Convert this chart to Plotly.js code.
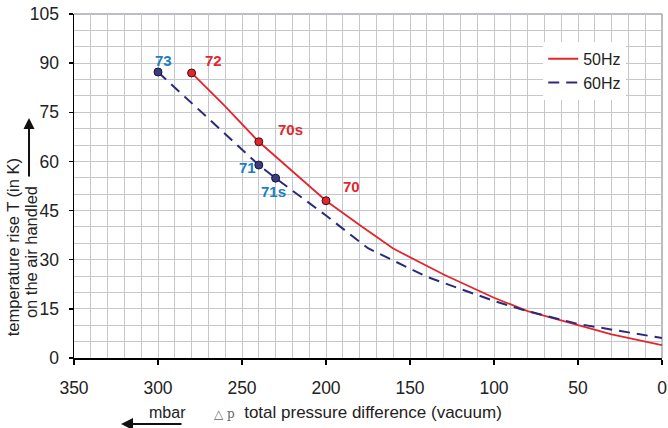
<!DOCTYPE html>
<html>
<head>
<meta charset="utf-8">
<script src="https://cdn.plot.ly/plotly-3.0.1.min.js"></script>
<style>html,body{margin:0;padding:0;background:#fff;}#chart{width:668px;height:428px;}</style>
</head>
<body>
<div id="chart"></div>
<script>
// 50Hz curve
const p50 = [280, 260, 240, 210, 200, 180, 160, 130, 100, 80, 50, 30, 0];
const t50 = [87, 76.8, 66, 52.5, 48, 40.6, 33.4, 25.5, 18.4, 14.3, 10.0, 7.2, 3.9];
// 60Hz curve
const p60 = [300, 240, 230, 200, 175, 140, 100, 80, 50, 0];
const t60 = [87.3, 58.9, 54.9, 43.5, 33.5, 24.8, 17.4, 14.3, 10.4, 6.1];
// marked points (pump models)
const mark50P = [280, 240, 200];
const mark50T = [87, 66, 48];
const mark50Lbl = ["72", "70s", "70"];
const mark60P = [300, 240, 230];
const mark60T = [87.3, 58.9, 54.9];
const mark60Lbl = ["73", "71", "71s"];
const xTicks = [350, 300, 250, 200, 150, 100, 50, 0];
const yTicks = [0, 15, 30, 45, 60, 75, 90, 105];

const red = '#e3262b';
const navy = '#2a2a7c';
const lblRed = '#e0282c';
const lblBlue = '#1b7dc2';
const FONT = 'Liberation Sans, Arial, sans-serif';

const traces = [
  {x: p50, y: t50, mode: 'lines', name: '50Hz', line: {color: red, width: 1.8}, hoverinfo: 'skip'},
  {x: p60, y: t60, mode: 'lines', name: '60Hz', line: {color: navy, width: 2, dash: '11px,7px'}, hoverinfo: 'skip'},
  {x: mark50P, y: mark50T, mode: 'markers', showlegend: false,
   marker: {color: red, size: 8, line: {color: '#3a1010', width: 1}}},
  {x: mark60P, y: mark60T, mode: 'markers', showlegend: false,
   marker: {color: '#3b3d80', size: 8, line: {color: '#15153a', width: 1}}}
];

// label offsets (data units) for each marker label
const off50 = [[-13, 3.7], [-19, 3.7], [-15, 4.2]];
const off60 = [[-3, 3.4], [7, -0.9], [1.5, -4.2]];
const annotations = [];
mark50P.forEach((p, i) => annotations.push({x: p + off50[i][0], y: mark50T[i] + off50[i][1], text: '<b>' + mark50Lbl[i] + '</b>',
  showarrow: false, xanchor: 'center', yanchor: 'middle', font: {family: FONT, size: 15, color: lblRed}}));
mark60P.forEach((p, i) => annotations.push({x: p + off60[i][0], y: mark60T[i] + off60[i][1], text: '<b>' + mark60Lbl[i] + '</b>',
  showarrow: false, xanchor: 'center', yanchor: 'middle', font: {family: FONT, size: 15, color: lblBlue}}));

// y axis title (two lines) and arrow
annotations.push({xref: 'paper', yref: 'paper', x: -0.1037, y: 0.322, xanchor: 'center', yanchor: 'middle', textangle: -90, showarrow: false,
  text: 'temperature rise T (in K)', font: {family: FONT, size: 16.5, color: '#222'}});
annotations.push({xref: 'paper', yref: 'paper', x: -0.073, y: 0.308, xanchor: 'center', yanchor: 'middle', textangle: -90, showarrow: false,
  text: 'on the air handled', font: {family: FONT, size: 16.5, color: '#222'}});
annotations.push({xref: 'paper', yref: 'paper', x: -0.0765, y: 0.698, ax: 0, ay: 60, text: '',
  showarrow: true, arrowhead: 2, arrowsize: 1.1, arrowwidth: 2, arrowcolor: '#111'});
// x axis title
annotations.push({xref: 'paper', yref: 'paper', x: (212 - 74) / 588, y: -0.157, xanchor: 'left', yanchor: 'middle', showarrow: false,
  text: '<span style="font-family:DejaVu Serif,serif;font-size:12px;color:#666">△ p</span>  total pressure difference (vacuum)',
  font: {family: FONT, size: 17, color: '#222'}});
annotations.push({xref: 'paper', yref: 'paper', x: (147 - 74) / 588, y: -0.157, xanchor: 'left', yanchor: 'middle', showarrow: false,
  text: 'mbar', font: {family: FONT, size: 16, color: '#222'}});
annotations.push({xref: 'paper', yref: 'paper', x: (121 - 74) / 588, y: -0.192, ax: 62, ay: 0, text: '',
  showarrow: true, arrowhead: 2, arrowsize: 1.2, arrowwidth: 2, arrowcolor: '#111'});

const gridC = '#c4c7cd';
const layout = {
  width: 668, height: 428,
  margin: {l: 74, r: 6, t: 14, b: 70},
  paper_bgcolor: '#fff', plot_bgcolor: '#fff',
  font: {family: FONT, color: '#222'},
  showlegend: true,
  legend: {x: 0.798, y: 0.919, xanchor: 'left', yanchor: 'top', bgcolor: '#fff', borderwidth: 0,
    font: {family: FONT, size: 16, color: '#222'}, itemwidth: 30},
  xaxis: {range: [350, 0], tickvals: xTicks, ticks: 'outside', ticklen: 5, tickcolor: '#000', tickwidth: 1.5,
    showline: true, linecolor: '#000', linewidth: 1.5, showgrid: true, gridcolor: gridC, gridwidth: 1,
    minor: {dtick: 10, tick0: 0, showgrid: true, gridcolor: gridC, gridwidth: 1},
    zeroline: false, tickfont: {family: FONT, size: 17.5, color: '#222'}, ticklabelstandoff: 8, fixedrange: true},
  yaxis: {range: [0, 105], tickvals: yTicks, ticks: 'outside', ticklen: 4, tickcolor: '#000', tickwidth: 1.5,
    showline: true, linecolor: '#000', linewidth: 1.5, showgrid: true, gridcolor: gridC, gridwidth: 1,
    minor: {dtick: 5, tick0: 0, showgrid: true, gridcolor: gridC, gridwidth: 1},
    zeroline: false, tickfont: {family: FONT, size: 17.5, color: '#222'}, ticklabelstandoff: 6, fixedrange: true},
  shapes: [
    {type: 'line', xref: 'paper', yref: 'paper', x0: 0, x1: 1, y0: 1, y1: 1, line: {color: '#a3a7ad', width: 1.5}, layer: 'below'},
    {type: 'line', xref: 'paper', yref: 'paper', x0: 1, x1: 1, y0: 0, y1: 1, line: {color: '#a3a7ad', width: 1.5}, layer: 'below'}
  ],
  annotations: annotations
};

Plotly.newPlot('chart', traces, layout, {displayModeBar: false, staticPlot: true});
</script>
</body>
</html>
